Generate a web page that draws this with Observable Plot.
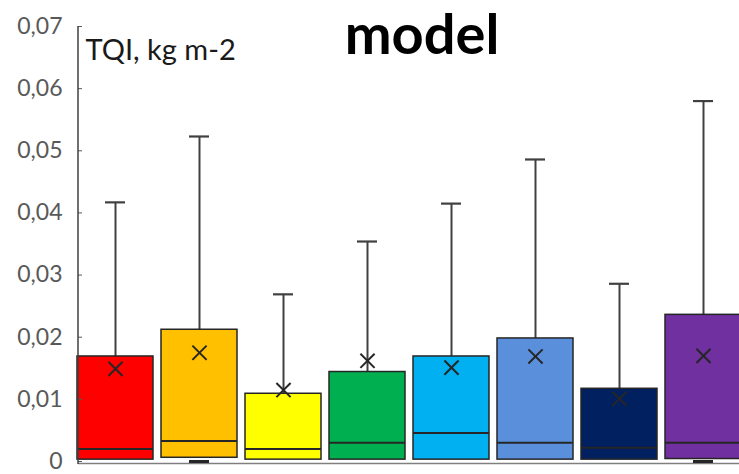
<!DOCTYPE html>
<html><head><meta charset="utf-8">
<script src="https://cdn.jsdelivr.net/npm/d3@7"></script>
<script src="https://cdn.jsdelivr.net/npm/@observablehq/plot@0.6"></script>
<style>
body{margin:0;background:#fff;overflow:hidden}
#chart{width:739px;height:474px;overflow:hidden}
#chart svg{overflow:hidden}
</style>
</head><body><div id="chart"></div>
<script>
const models = ["M1","M2","M3","M4","M5","M6","M7","M8"];
const colors = ["#ff0000","#ffc000","#ffff00","#00b050","#00b0f0","#5a8fdc","#002060","#7030a0"];
const whiskerLow  = [0.0003,0.0000,0.0003,0.0003,0.0003,0.0003,0.0003,0.0000];
const q1          = [0.0003,0.0006,0.0003,0.0003,0.0003,0.0003,0.0003,0.0004];
const median      = [0.0020,0.0033,0.0020,0.0030,0.0046,0.0030,0.0022,0.0030];
const q3          = [0.0169,0.0212,0.0109,0.0144,0.0169,0.0198,0.0117,0.0236];
const whiskerHigh = [0.0417,0.0523,0.0269,0.0354,0.0415,0.0486,0.0286,0.0580];
const mean        = [0.0149,0.0175,0.0115,0.0162,0.0151,0.0169,0.0101,0.0170];
const yTicks = [0,0.01,0.02,0.03,0.04,0.05,0.06,0.07];
const title = "model";
const unitLabel = "TQI, kg m-2";

const data = models.map((m,i)=>({model:m, lo:whiskerLow[i], q1:q1[i], median:median[i], q3:q3[i], hi:whiskerHigh[i], mean:mean[i]}));
const ink = "#262626";
const whisk = "#404040";

const axisLine = (index, scales, values, dims) => {
  const l = document.createElementNS("http://www.w3.org/2000/svg","line");
  l.setAttribute("x1", dims.marginLeft); l.setAttribute("x2", dims.marginLeft);
  l.setAttribute("y1", scales.y(yTicks[yTicks.length-1]));
  l.setAttribute("y2", scales.y(0) + 3);
  l.setAttribute("stroke", "#404040"); l.setAttribute("stroke-width", 1.5);
  return l;
};

const plot = Plot.plot({
  width: 739, height: 474,
  marginLeft: 78, marginRight: 0, marginTop: 26, marginBottom: 13,
  style: {fontFamily: "Lato, 'Open Sans', sans-serif", background: "white"},
  x: {domain: models, range: [72, 746], paddingInner: 0.1, paddingOuter: 0.05, axis: null},
  y: {domain: [0, 0.07], axis: null},
  color: {domain: models, range: colors},
  marks: [
    Plot.ruleY([0], {stroke: "#7f7f7f", strokeWidth: 1.5, dy: 2}),
    Plot.ruleX(data, {x: "model", y1: "q3", y2: "hi", stroke: whisk, strokeWidth: 2}),
    Plot.tickY(data, {x: "model", y: "hi", inset: 28, stroke: whisk, strokeWidth: 2.2}),
    Plot.tickY(data.filter(d => d.lo < d.q1), {x: "model", y: "lo", inset: 28, stroke: ink, strokeWidth: 3}),
    Plot.barY(data, {x: "model", y1: "q1", y2: "q3", fill: "model", stroke: ink, strokeWidth: 1.5}),
    Plot.tickY(data, {x: "model", y: "median", stroke: ink, strokeWidth: 2}),
    Plot.dot(data, {x: "model", y: "mean", symbol: "times", r: 6.5, stroke: ink, strokeWidth: 2}),
    Plot.axisY({ticks: yTicks, tickSize: -4, tickPadding: 20, fontSize: 23, color: "#595959",
      tickFormat: d => d === 0 ? "0" : d.toFixed(2).replace(".", ",")}),
    axisLine,
    Plot.text([title], {text: d => d, frameAnchor: "top", dx: 13, dy: 27, lineAnchor: "bottom",
      fontSize: 56, fontWeight: "bold", fill: "black"}),
    Plot.text([unitLabel], {text: d => d, frameAnchor: "top-left", dx: 7, dy: 33, lineAnchor: "bottom",
      textAnchor: "start", fontSize: 29, fill: "#1a1a1a"})
  ]
});
document.getElementById("chart").appendChild(plot);
</script>
</body></html>
